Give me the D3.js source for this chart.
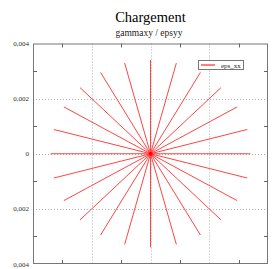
<!DOCTYPE html>
<html><head><meta charset="utf-8">
<script src="https://cdn.jsdelivr.net/npm/d3@7"></script>
<style>html,body{margin:0;padding:0;background:#fff;overflow:hidden}</style>
</head><body>
<svg id="c" width="273" height="269"></svg>
<script>
const title = "Chargement";
const subtitle = "gammaxy / epsyy";
const seriesName = "eps_xx";
// ray end points (data units), one ray from origin per entry
const xEnd = [0.0034, 0.00329, 0.00295, 0.0024, 0.0017, 0.00088, 0, -0.00088, -0.0017, -0.0024, -0.00295, -0.00329,
              -0.0034, -0.00329, -0.00295, -0.0024, -0.0017, -0.00088, 0, 0.00088, 0.0017, 0.0024, 0.00295, 0.00329];
const yEnd = [0, 0.00088, 0.0017, 0.0024, 0.00295, 0.00329, 0.0034, 0.00329, 0.00295, 0.0024, 0.0017, 0.00088,
              0, -0.00088, -0.0017, -0.0024, -0.00295, -0.00329, -0.0034, -0.00329, -0.00295, -0.0024, -0.0017, -0.00088];
const majorTicks = [-0.004, -0.002, 0, 0.002, 0.004];
const tickLabels = ["0,004", "0,002", "0", "0,002", "0,004"];
const minorTicks = [-0.003, -0.001, 0.001, 0.003];
const gridTicks = [-0.002, 0, 0.002];

const svg = d3.select("#c");
const L = 33, R = 268, T = 43.5, B = 264;
const x = d3.scaleLinear().domain([-0.004, 0.004]).range([L, R]);
const y = d3.scaleLinear().domain([-0.004, 0.004]).range([B, T]);
const font = "'Liberation Serif','DejaVu Serif',serif";

svg.append("text").attr("x", 150.5).attr("y", 22).attr("text-anchor", "middle")
  .attr("font-family", font).attr("font-size", 14.5).attr("fill", "#000").text(title);
svg.append("text").attr("x", 149).attr("y", 36).attr("text-anchor", "middle")
  .attr("font-family", font).attr("font-size", 9.5).attr("fill", "#222").text(subtitle);

// grid
const g = svg.append("g");
g.selectAll(".gx").data(gridTicks).join("line")
  .attr("x1", d => Math.round(x(d)) + 0.5).attr("x2", d => Math.round(x(d)) + 0.5)
  .attr("y1", T).attr("y2", B).attr("stroke", "#b0b0b0").attr("stroke-width", 1).attr("stroke-dasharray", "1,2");
g.selectAll(".gy").data(gridTicks).join("line")
  .attr("y1", d => Math.round(y(d)) + 0.5).attr("y2", d => Math.round(y(d)) + 0.5)
  .attr("x1", L).attr("x2", R).attr("stroke", "#b0b0b0").attr("stroke-width", 1).attr("stroke-dasharray", "1,2");

// rays
const rays = xEnd.map((v, i) => [[0, 0], [v, yEnd[i]]]);
const line = d3.line().x(d => x(d[0])).y(d => y(d[1]));
svg.append("g").selectAll("path").data(rays).join("path")
  .attr("d", line).attr("fill", "none").attr("stroke", "#ff4444").attr("stroke-width", 1);
svg.append("circle").attr("cx", x(0)).attr("cy", y(0)).attr("r", 2).attr("fill", "#ff0000");

// frame
svg.append("rect").attr("x", L + 0.5).attr("y", T + 0.5).attr("width", R - L - 1).attr("height", B - T - 1)
  .attr("fill", "none").attr("stroke", "#777").attr("stroke-width", 1);

// minor ticks inward
const tl = 4;
const tg = svg.append("g").attr("stroke", "#666").attr("stroke-width", 1);
minorTicks.forEach(d => {
  const xx = Math.round(x(d)) + 0.5, yy = Math.round(y(d)) + 0.5;
  tg.append("line").attr("x1", xx).attr("x2", xx).attr("y1", B).attr("y2", B - tl);
  tg.append("line").attr("x1", xx).attr("x2", xx).attr("y1", T).attr("y2", T + tl);
  tg.append("line").attr("y1", yy).attr("y2", yy).attr("x1", L).attr("x2", L + tl);
  tg.append("line").attr("y1", yy).attr("y2", yy).attr("x1", R).attr("x2", R - tl);
});

// tick labels
svg.append("g").selectAll("text").data(majorTicks).join("text")
  .attr("x", 29).attr("y", d => y(d) + 2.5).attr("text-anchor", "end")
  .attr("font-family", font).attr("font-size", 7).attr("fill", "#333")
  .text((d, i) => tickLabels[i]);
svg.append("g").selectAll("text").data(majorTicks).join("text")
  .attr("x", d => x(d)).attr("y", 273).attr("text-anchor", "middle")
  .attr("font-family", font).attr("font-size", 7).attr("fill", "#333")
  .text((d, i) => tickLabels[i]);

// legend
const lg = svg.append("g");
lg.append("rect").attr("x", 198.5).attr("y", 60.5).attr("width", 45).attr("height", 9)
  .attr("fill", "#fff").attr("stroke", "#777").attr("stroke-width", 1);
lg.append("line").attr("x1", 201).attr("x2", 215).attr("y1", 65).attr("y2", 65)
  .attr("stroke", "#ff5555").attr("stroke-width", 1.5);
lg.append("text").attr("x", 221).attr("y", 67.5).attr("font-family", font).attr("font-size", 7)
  .attr("fill", "#222").text(seriesName);
</script>
</body></html>
